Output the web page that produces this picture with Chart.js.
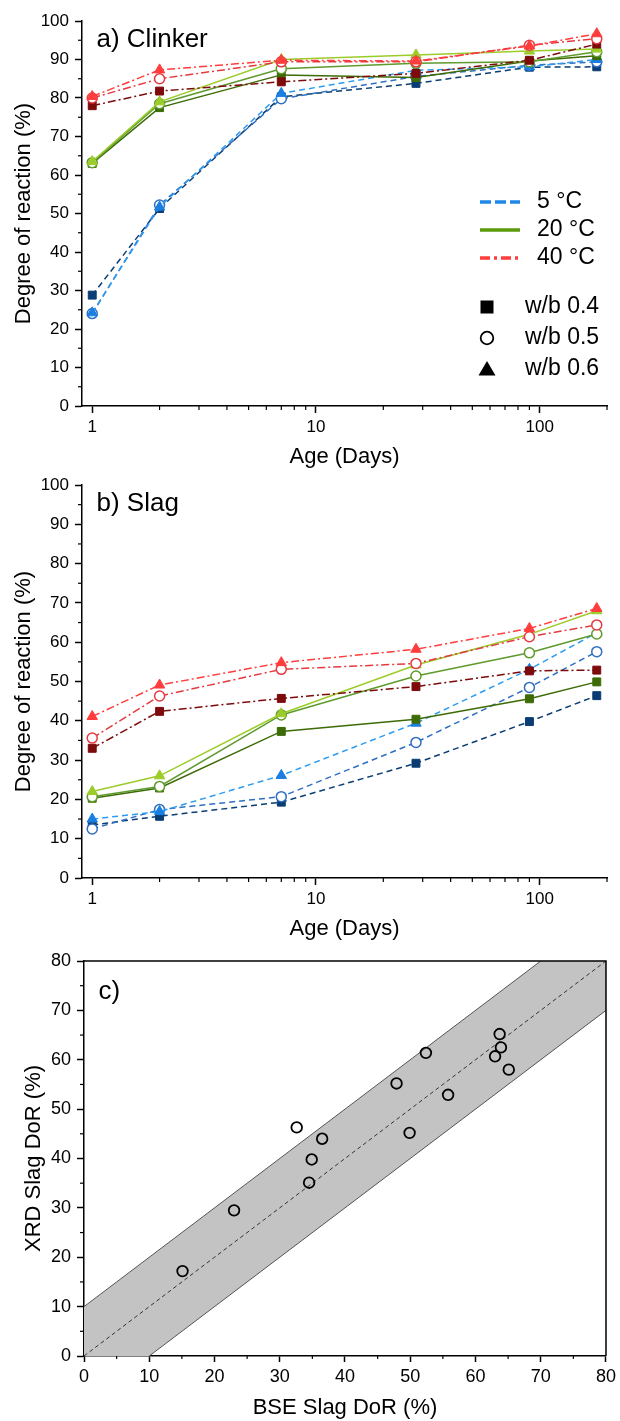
<!DOCTYPE html>
<html>
<head>
<meta charset="utf-8">
<script src="https://cdn.jsdelivr.net/npm/chart.js@4.4.1/dist/chart.umd.min.js"></script>
<style>
  html, body { margin: 0; background: #fff; }
  #wrap { position: relative; width: 620px; height: 1421px; }
  canvas { position: absolute; left: 0; }
</style>
</head>
<body>
<div id="wrap">
  <canvas id="clinker" width="620" height="470" style="top:0px"></canvas>
  <canvas id="slag" width="620" height="476" style="top:466px"></canvas>
  <canvas id="compare" width="620" height="481" style="top:940px"></canvas>
</div>
<script>
// ages (days)
const AGES = [1, 2, 7, 28, 90, 180];

// a) clinker degree of reaction (%)
const CLK_5C_WB04 = [28.8, 51.3, 80.3, 83.8, 88.0, 88.1];
const CLK_5C_WB05 = [24.0, 52.2, 79.8, 85.6, 88.5, 89.4];
const CLK_5C_WB06 = [24.2, 51.7, 81.2, 87.2, 88.1, 90.0];
const CLK_20C_WB04 = [63.0, 77.5, 86.0, 85.3, 89.6, 91.0];
const CLK_20C_WB05 = [63.2, 78.5, 87.6, 89.0, 89.4, 92.0];
const CLK_20C_WB06 = [63.5, 79.0, 90.0, 91.2, 92.2, 92.7];
const CLK_40C_WB04 = [78.0, 81.8, 84.2, 86.4, 89.8, 94.0];
const CLK_40C_WB05 = [80.0, 85.0, 89.4, 89.4, 93.7, 95.4];
const CLK_40C_WB06 = [80.4, 87.3, 89.8, 89.6, 93.5, 96.7];

// b) slag degree of reaction (%)
const SLG_5C_WB04 = [13.5, 15.7, 19.3, 29.2, 39.8, 46.4];
const SLG_5C_WB05 = [12.5, 17.4, 20.7, 34.5, 48.5, 57.6];
const SLG_5C_WB06 = [15.0, 16.9, 26.1, 39.4, 53.1, 62.4];
const SLG_20C_WB04 = [20.3, 22.9, 37.3, 40.4, 45.6, 49.9];
const SLG_20C_WB05 = [20.7, 23.3, 41.5, 51.4, 57.3, 62.1];
const SLG_20C_WB06 = [22.0, 26.0, 41.8, 54.2, 62.0, 68.0];
const SLG_40C_WB04 = [33.0, 42.4, 45.7, 48.7, 52.7, 52.9];
const SLG_40C_WB05 = [35.6, 46.3, 53.1, 54.6, 61.4, 64.4];
const SLG_40C_WB06 = [41.1, 49.1, 54.8, 58.2, 63.5, 68.6];

// c) BSE vs XRD slag DoR (%)
const BSE_DOR = [15.1, 23.0, 32.6, 34.5, 34.9, 36.5, 47.9, 49.9, 52.4, 55.8, 63.0, 63.7, 63.9, 65.1];
const XRD_DOR = [17.2, 29.5, 46.3, 35.1, 39.8, 44.0, 55.2, 45.2, 61.4, 52.9, 60.7, 65.2, 62.5, 58.0];
const IDENT_X = [0, 80];
const IDENT_Y = [0, 80];
const BAND_UP_X = [0, 70];
const BAND_UP_Y = [10, 80];
const BAND_LO_X = [10, 80];
const BAND_LO_Y = [0, 70];
const BAND_SHAPE_X = [0, 70, 80, 80, 10, 0];
const BAND_SHAPE_Y = [10, 80, 80, 70, 0, 0];

// ticks
const AGE_MAJOR = [1, 10, 100];
const AGE_MINOR = [2, 3, 4, 5, 6, 7, 8, 9, 20, 30, 40, 50, 60, 70, 80, 90, 200];
const DOR_MINOR = [5, 15, 25, 35, 45, 55, 65, 75, 85, 95];
const C_MINOR = [5, 15, 25, 35, 45, 55, 65, 75];

const FONT = "'Liberation Sans', Arial, Helvetica, sans-serif";
Chart.defaults.font.family = FONT;
Chart.defaults.color = '#000';

const COL = {
  b04: '#0a3d73', b05: '#2f6fc2', b06: '#1a7fe0', b06line: '#2c9cf2',
  g04: '#3d6b06', g05: '#5e9a2c', g06: '#9ccc2a',
  r04: '#7d0b0b', r05: '#e43a3f', r06: '#ff3d3d'
};
const DASH5 = [6, 4];
const DASH40 = [8, 3, 2, 3];
const RAD = {rect: 5.6, circle: 5, triangle: 6};

function pts(xs, ys) {
  return xs.map((x, i) => ({x: x, y: ys[i]}));
}

function series(vals, color, lineColor, dash, shape) {
  return {
    data: pts(AGES, vals),
    showLine: true,
    borderColor: lineColor,
    borderWidth: 1.5,
    borderDash: dash,
    pointStyle: shape,
    pointRadius: RAD[shape],
    pointBorderWidth: shape === 'circle' ? 1.5 : 1,
    pointBorderColor: color,
    pointBackgroundColor: shape === 'circle' ? '#fff' : color
  };
}

// minor tick marks, drawn outward from the axis lines
const minorTicks = {
  id: 'minorTicks',
  afterDraw(chart, args, opts) {
    const ctx = chart.ctx;
    ctx.save();
    ctx.strokeStyle = '#000';
    ctx.lineWidth = 1.2;
    const sx = chart.scales.x, sy = chart.scales.y;
    opts.x.forEach(v => {
      const p = sx.getPixelForValue(v);
      ctx.beginPath();
      ctx.moveTo(p, sx.top);
      ctx.lineTo(p, sx.top + opts.xLen);
      ctx.stroke();
    });
    opts.y.forEach(v => {
      const p = sy.getPixelForValue(v);
      ctx.beginPath();
      ctx.moveTo(sy.right, p);
      ctx.lineTo(sy.right - opts.yLen, p);
      ctx.stroke();
    });
    ctx.restore();
  }
};

// panel tag like "a) Clinker"
const panelTag = {
  id: 'panelTag',
  afterDraw(chart, args, opts) {
    const {ctx, chartArea: a} = chart;
    ctx.save();
    ctx.font = opts.size + 'px ' + FONT;
    ctx.fillStyle = '#000';
    ctx.textBaseline = 'middle';
    ctx.fillText(opts.text, a.left + opts.x, a.top + opts.y);
    ctx.restore();
  }
};

// top and right frame lines
const frame = {
  id: 'frame',
  afterDraw(chart) {
    const {ctx, chartArea: a} = chart;
    ctx.save();
    ctx.strokeStyle = '#000';
    ctx.lineWidth = 1.5;
    ctx.beginPath();
    ctx.moveTo(a.left, a.top);
    ctx.lineTo(a.right, a.top);
    ctx.lineTo(a.right, a.bottom);
    ctx.stroke();
    ctx.restore();
  }
};

// legend of panel a
const legendKey = {
  id: 'legendKey',
  afterDraw(chart, args, opts) {
    const {ctx, chartArea: a} = chart;
    ctx.save();
    ctx.font = opts.size + 'px ' + FONT;
    ctx.textBaseline = 'middle';
    opts.lines.forEach((it, i) => {
      const y = a.top + opts.lineY + i * opts.lineGap;
      ctx.beginPath();
      ctx.setLineDash(it.dash);
      ctx.strokeStyle = it.color;
      ctx.lineWidth = 3.5;
      ctx.moveTo(a.left + opts.lineX0, y);
      ctx.lineTo(a.left + opts.lineX1, y);
      ctx.stroke();
      ctx.setLineDash([]);
      ctx.fillStyle = '#000';
      ctx.fillText(it.label, a.left + opts.lineTextX, y);
    });
    opts.marks.forEach((it, i) => {
      const y = a.top + opts.markY + i * opts.markGap;
      const x = a.left + opts.markX;
      ctx.fillStyle = '#000';
      ctx.strokeStyle = '#000';
      ctx.beginPath();
      if (it.shape === 'rect') {
        ctx.fillRect(x - 6.5, y - 6.5, 13, 13);
      } else if (it.shape === 'circle') {
        ctx.lineWidth = 1.8;
        ctx.arc(x, y, 6.3, 0, Math.PI * 2);
        ctx.stroke();
      } else {
        ctx.moveTo(x, y - 8);
        ctx.lineTo(x + 8.5, y + 6.5);
        ctx.lineTo(x - 8.5, y + 6.5);
        ctx.closePath();
        ctx.fill();
      }
      ctx.fillText(it.label, a.left + opts.markTextX, y);
    });
    ctx.restore();
  }
};

function ageAxis(height) {
  return {
    type: 'logarithmic',
    min: 0.9,
    max: 200,
    afterBuildTicks: s => { s.ticks = AGE_MAJOR.map(v => ({value: v, major: true})); },
    ticks: {callback: v => String(v), font: {size: 17}, padding: 4, maxRotation: 0, autoSkip: false},
    grid: {drawOnChartArea: false, tickLength: 7, tickWidth: 1.5, tickColor: '#000'},
    border: {color: '#000', width: 1.5},
    title: {display: true, text: 'Age (Days)', font: {size: 22}, padding: {top: 0, bottom: 0}},
    afterFit: s => { s.height = height; }
  };
}

function dorAxis() {
  return {
    min: 0,
    max: 100,
    ticks: {stepSize: 10, font: {size: 17}, padding: 6},
    grid: {drawOnChartArea: false, tickLength: 7, tickWidth: 1.5, tickColor: '#000'},
    border: {color: '#000', width: 1.5},
    title: {display: true, text: 'Degree of reaction (%)', font: {size: 22}, padding: {top: 11, bottom: 0}},
    afterFit: s => { s.width = 82; }
  };
}

function timeChart(id, sets, tag, padTop, xHeight, withLegend) {
  const plugins = [minorTicks, panelTag];
  if (withLegend) plugins.push(legendKey);
  return new Chart(document.getElementById(id), {
    type: 'scatter',
    data: {datasets: sets},
    plugins: plugins,
    options: {
      responsive: false,
      animation: false,
      devicePixelRatio: 1,
      layout: {padding: {top: padTop, right: 13, left: 0, bottom: 0}},
      scales: {x: ageAxis(xHeight), y: dorAxis()},
      plugins: {
        legend: {display: false},
        tooltip: {enabled: false},
        minorTicks: {x: AGE_MINOR, y: DOR_MINOR, xLen: 4, yLen: 4},
        panelTag: {text: tag, x: 14.5, y: 19, size: 26},
        legendKey: {
          size: 23,
          lineX0: 398, lineX1: 438, lineTextX: 455, lineY: 181, lineGap: 28,
          markX: 405, markTextX: 443, markY: 286, markGap: 31,
          lines: [
            {label: '5 °C', color: '#1e88e8', dash: [11, 4]},
            {label: '20 °C', color: '#5a9a0a', dash: []},
            {label: '40 °C', color: '#ff3d3d', dash: [10, 4, 3, 4]}
          ],
          marks: [
            {label: 'w/b 0.4', shape: 'rect'},
            {label: 'w/b 0.5', shape: 'circle'},
            {label: 'w/b 0.6', shape: 'triangle'}
          ]
        }
      }
    }
  });
}

const clinkerSets = [
  series(CLK_40C_WB06, COL.r06, COL.r06, DASH40, 'triangle'),
  series(CLK_40C_WB05, COL.r05, COL.r05, DASH40, 'circle'),
  series(CLK_40C_WB04, COL.r04, COL.r04, DASH40, 'rect'),
  series(CLK_20C_WB06, COL.g06, COL.g06, [], 'triangle'),
  series(CLK_20C_WB05, COL.g05, COL.g05, [], 'circle'),
  series(CLK_20C_WB04, COL.g04, COL.g04, [], 'rect'),
  series(CLK_5C_WB06, COL.b06, COL.b06line, DASH5, 'triangle'),
  series(CLK_5C_WB05, COL.b05, COL.b05, DASH5, 'circle'),
  series(CLK_5C_WB04, COL.b04, COL.b04, DASH5, 'rect')
];

const slagSets = [
  series(SLG_40C_WB06, COL.r06, COL.r06, DASH40, 'triangle'),
  series(SLG_40C_WB05, COL.r05, COL.r05, DASH40, 'circle'),
  series(SLG_40C_WB04, COL.r04, COL.r04, DASH40, 'rect'),
  series(SLG_20C_WB06, COL.g06, COL.g06, [], 'triangle'),
  series(SLG_20C_WB05, COL.g05, COL.g05, [], 'circle'),
  series(SLG_20C_WB04, COL.g04, COL.g04, [], 'rect'),
  series(SLG_5C_WB06, COL.b06, COL.b06line, DASH5, 'triangle'),
  series(SLG_5C_WB05, COL.b05, COL.b05, DASH5, 'circle'),
  series(SLG_5C_WB04, COL.b04, COL.b04, DASH5, 'rect')
];

timeChart('clinker', clinkerSets, 'a) Clinker', 21, 64, true);
timeChart('slag', slagSets, 'b) Slag', 19, 64, false);

// c) comparison
const compareAxis = (title, isX) => ({
  min: 0,
  max: 80,
  ticks: {stepSize: 10, font: {size: 18}, padding: isX ? 4 : 6, maxRotation: 0},
  grid: {drawOnChartArea: false, tickLength: isX ? 6 : 7, tickWidth: 1.5, tickColor: '#000'},
  border: {color: '#000', width: 1.5},
  title: {display: true, text: title, font: {size: 22},
    padding: isX ? {top: 0, bottom: 0} : {top: 21, bottom: 0}},
  afterFit: isX ? (s => { s.height = 65; }) : (s => { s.width = 84; })
});

new Chart(document.getElementById('compare'), {
  type: 'scatter',
  data: {
    datasets: [
      {
        data: pts(BSE_DOR, XRD_DOR),
        pointStyle: 'circle',
        pointRadius: 5.3,
        pointBorderWidth: 1.8,
        pointBorderColor: '#000',
        pointBackgroundColor: 'rgba(0,0,0,0)'
      },
      {
        data: pts(IDENT_X, IDENT_Y), showLine: true, pointRadius: 0,
        borderColor: '#333', borderWidth: 1, borderDash: [4, 3]
      },
      {
        data: pts(BAND_UP_X, BAND_UP_Y), showLine: true, pointRadius: 0,
        borderColor: '#555', borderWidth: 1
      },
      {
        data: pts(BAND_LO_X, BAND_LO_Y), showLine: true, pointRadius: 0,
        borderColor: '#555', borderWidth: 1
      },
      {
        data: pts(BAND_SHAPE_X, BAND_SHAPE_Y), showLine: true, pointRadius: 0,
        borderWidth: 0, borderColor: 'rgba(0,0,0,0)',
        backgroundColor: '#c3c3c3', fill: 'shape'
      }
    ]
  },
  plugins: [minorTicks, panelTag, frame],
  options: {
    responsive: false,
    animation: false,
    devicePixelRatio: 1,
    layout: {padding: {top: 21, right: 13, left: 0, bottom: 0}},
    scales: {
      x: compareAxis('BSE Slag DoR (%)', true),
      y: compareAxis('XRD Slag DoR (%)', false)
    },
    plugins: {
      legend: {display: false},
      tooltip: {enabled: false},
      minorTicks: {x: C_MINOR, y: C_MINOR, xLen: 3, yLen: 4},
      panelTag: {text: 'c)', x: 14.5, y: 31, size: 26}
    }
  }
});
</script>
</body>
</html>
